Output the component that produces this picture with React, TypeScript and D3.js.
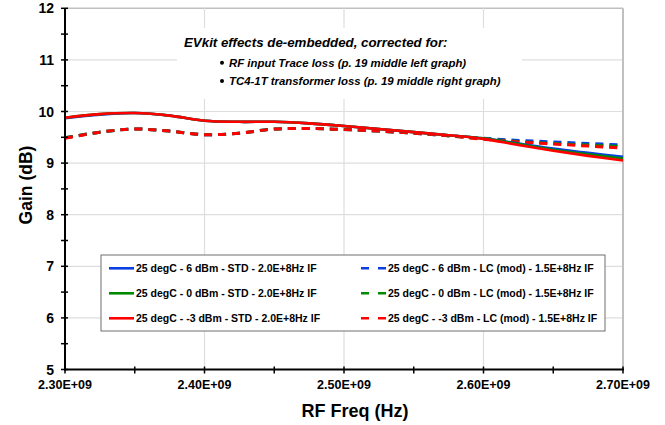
import React from 'react';
import * as d3 from 'd3';

// frequency points (Hz)
const freqs = [
  2.3e9, 2.325e9, 2.35e9, 2.375e9, 2.4e9, 2.425e9, 2.45e9, 2.475e9, 2.5e9,
  2.525e9, 2.55e9, 2.575e9, 2.6e9, 2.625e9, 2.65e9, 2.675e9, 2.7e9,
];

// STD board, 2.0E+8Hz IF
const std6 = [9.87, 9.94, 9.97, 9.92, 9.82, 9.8, 9.8, 9.77, 9.72, 9.66, 9.6, 9.54, 9.48, 9.38, 9.28, 9.2, 9.12];
const std0 = [9.88, 9.95, 9.97, 9.92, 9.82, 9.8, 9.8, 9.77, 9.72, 9.66, 9.6, 9.54, 9.48, 9.37, 9.26, 9.17, 9.09];
const stdM3 = [9.88, 9.95, 9.97, 9.92, 9.82, 9.8, 9.8, 9.77, 9.72, 9.66, 9.6, 9.54, 9.47, 9.35, 9.24, 9.14, 9.05];

// LC (mod) board, 1.5E+8Hz IF
const lc6 = [9.49, 9.6, 9.66, 9.62, 9.55, 9.58, 9.66, 9.67, 9.65, 9.62, 9.58, 9.53, 9.48, 9.44, 9.41, 9.38, 9.35];
const lc0 = [9.49, 9.6, 9.66, 9.62, 9.55, 9.58, 9.66, 9.67, 9.65, 9.62, 9.58, 9.53, 9.47, 9.42, 9.38, 9.35, 9.32];
const lcM3 = [9.48, 9.6, 9.66, 9.62, 9.55, 9.58, 9.66, 9.67, 9.65, 9.62, 9.58, 9.53, 9.46, 9.41, 9.37, 9.33, 9.29];

const xTicks = [2.3e9, 2.4e9, 2.5e9, 2.6e9, 2.7e9];
const xTickLabels = ['2.30E+09', '2.40E+09', '2.50E+09', '2.60E+09', '2.70E+09'];
const yTicks = [5, 6, 7, 8, 9, 10, 11, 12];

const noteTitle = 'EVkit effects de-embedded, corrected for:';
const noteItems = [
  'RF input Trace loss (p. 19 middle left graph)',
  'TC4-1T transformer loss (p. 19 middle right graph)',
];

const BLUE = '#0a3fe0';
const GREEN = '#008a00';
const RED = '#ff0000';

const series = [
  { name: '25 degC - 6 dBm - STD - 2.0E+8Hz IF', values: std6, color: BLUE, dashed: false },
  { name: '25 degC - 0 dBm - STD - 2.0E+8Hz IF', values: std0, color: GREEN, dashed: false },
  { name: '25 degC - -3 dBm - STD - 2.0E+8Hz IF', values: stdM3, color: RED, dashed: false },
  { name: '25 degC - 6 dBm - LC (mod) - 1.5E+8Hz IF', values: lc6, color: BLUE, dashed: true },
  { name: '25 degC - 0 dBm - LC (mod) - 1.5E+8Hz IF', values: lc0, color: GREEN, dashed: true },
  { name: '25 degC - -3 dBm - LC (mod) - 1.5E+8Hz IF', values: lcM3, color: RED, dashed: true },
];

const font = '"Liberation Sans", Arial, sans-serif';

const App: React.FC = () => {
  const left = 65, right = 623, top = 8.3, bottom = 369.5;

  const x = d3.scaleLinear().domain([2.3e9, 2.7e9]).range([left, right]);
  const y = d3.scaleLinear().domain([5, 12]).range([bottom, top]);

  const line = d3.line<number>()
    .x((_, i) => x(freqs[i]))
    .y(d => y(d))
    .curve(d3.curveCatmullRom.alpha(0.5));

  const xMinor = d3.range(2.3e9, 2.7e9 + 1, 0.05e9);
  const yMinor = d3.range(5, 12.01, 0.5);

  // dashed first, solid on top
  const drawOrder = [...series.filter(s => s.dashed), ...series.filter(s => !s.dashed)];

  return (
    <svg width={665} height={425} style={{ position: 'absolute', left: 0, top: 0 }} fontFamily={font}>
      <rect width={665} height={425} fill="#fff" />

      {/* grid */}
      {yTicks.filter(t => t > 5).map(t => (
        <line key={'gy' + t} x1={left} x2={right} y1={y(t)} y2={y(t)} stroke={t === 12 ? '#c0c0c0' : '#dedede'} strokeWidth={t === 12 ? 1.5 : 1.2} />
      ))}
      {xTicks.slice(1).map(t => (
        <line key={'gx' + t} x1={x(t)} x2={x(t)} y1={top} y2={bottom} stroke={t === 2.7e9 ? '#c0c0c0' : '#dedede'} strokeWidth={t === 2.7e9 ? 2 : 1.2} />
      ))}

      {/* annotation box */}
      <rect x={177} y={28} width={345} height={71} fill="#fff" />
      <text x={184} y={47} fontSize={13.3} fontWeight="bold" fontStyle="italic" fill="#000">{noteTitle}</text>
      {noteItems.map((t, i) => (
        <g key={t}>
          <circle cx={222} cy={62.8 + i * 18.3} r={2} fill="#000" />
          <text x={229} y={66.7 + i * 18.3} fontSize={11.4} fontWeight="bold" fontStyle="italic" fill="#000">{t}</text>
        </g>
      ))}

      {/* series */}
      {drawOrder.map(s => (
        <path key={s.name} d={line(s.values) || ''} fill="none" stroke={s.color}
          strokeWidth={s.dashed ? 3 : 2.6} strokeDasharray={s.dashed ? '8 6' : undefined} />
      ))}

      {/* legend */}
      <rect x={101} y={255} width={504} height={76} fill="#fff" stroke="#6e6e6e" strokeWidth={1} />
      {series.map((s, i) => {
        const col = s.dashed ? 1 : 0;
        const row = i % 3;
        const lx = col === 0 ? 109 : 361;
        const ly = 268.3 + row * 25;
        return (
          <g key={'lg' + s.name}>
            <line x1={lx} x2={lx + 25} y1={ly} y2={ly} stroke={s.color} strokeWidth={2.6}
              strokeDasharray={s.dashed ? '8 9' : undefined} />
            <text x={lx + 27} y={ly + 3.8} fontSize={10.5} fontWeight="bold" fill="#000">{s.name}</text>
          </g>
        );
      })}

      {/* axes */}
      <line x1={left} x2={left} y1={top} y2={bottom + 1} stroke="#000" strokeWidth={2} />
      <line x1={left - 1} x2={right + 1} y1={bottom} y2={bottom} stroke="#000" strokeWidth={2} />
      {yMinor.map(t => (
        <line key={'ty' + t} x1={left - 4} x2={left + 3} y1={y(t)} y2={y(t)} stroke="#000" strokeWidth={1.5} />
      ))}
      {xMinor.map(t => (
        <line key={'tx' + t} x1={x(t)} x2={x(t)} y1={bottom - 3} y2={bottom + 4} stroke="#000" strokeWidth={1.5} />
      ))}
      {yTicks.map(t => (
        <text key={'ly' + t} x={54} y={y(t) + 5} textAnchor="end" fontSize={14} fontWeight="bold" fill="#000">{t}</text>
      ))}
      {xTicks.map((t, i) => (
        <text key={'lx' + t} x={x(t)} y={388.5} textAnchor="middle" fontSize={12.5} fontWeight="bold" fill="#000">{xTickLabels[i]}</text>
      ))}

      <text x={355} y={417} textAnchor="middle" fontSize={18} fontWeight="bold" fill="#000">RF Freq (Hz)</text>
      <text transform="translate(32,185) rotate(-90)" textAnchor="middle" fontSize={17.5} fontWeight="bold" fill="#000">Gain (dB)</text>
    </svg>
  );
};

export default App;
